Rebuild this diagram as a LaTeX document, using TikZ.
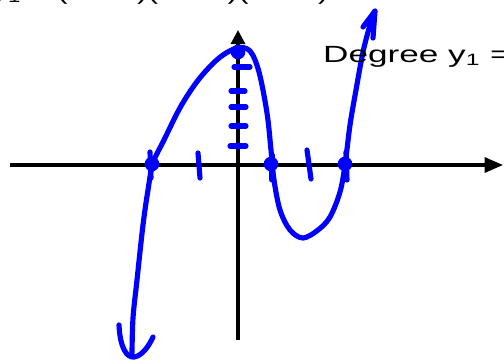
\documentclass[tikz,border=0pt]{standalone}
\usepackage{fontspec}
\setmainfont{Liberation Sans}
\usetikzlibrary{arrows.meta, positioning}
\tikzset{
    axis/.style={line width=2.6pt, -{Triangle[length=0.55cm, width=0.45cm]}},
    pen/.style={draw=blue, line width=4.4pt, line cap=round, line join=round},
    rootdot/.style={circle, fill=blue, inner sep=0pt, minimum size=0.44cm},
    handtext/.style={inner sep=0pt, anchor=base west, font=\fontsize{20}{24}\selectfont}
}

\begin{document}
\begin{tikzpicture}[x=0.03cm, y=-0.03cm]
\useasboundingbox (0,0) rectangle (504,363);

% axes
\coordinate (xl) at (10,165);
\coordinate (xr) at (503,165);
\coordinate (yb) at (238,340);
\coordinate (yt) at (238,30);
\draw[axis] (xl) -- (xr);
\draw[axis, -{Triangle[length=0.42cm, width=0.42cm]}] (yb) -- (yt);

% tick marks
\draw[pen] (198,153) -- (200,178);
\draw[pen] (307,150) -- (311,179);
\draw[pen] (150,152) -- (151,178);
\draw[pen] (272,155) -- (272,180);
\draw[pen] (346,152) -- (347,180);
\foreach \ty/\tl/\tr in {146/230/246, 126/231/246, 107/231/246, 91/231/245, 67/234/250}
    \draw[pen] (\tl,\ty) -- (\tr,\ty);

% the cubic
\draw[pen] plot[smooth, tension=0.55] coordinates {
    (132,353) (133,318) (137,280) (143,225) (148,190) (153,163) (164,140)
    (181,106) (199,79) (219,58) (237,48) (250,51) (259,72)
    (267,113) (271,150) (274,180) (280,210) (290,230) (303,238) (318,230)
    (330,217) (340,192) (345,165) (350,125) (356,90) (363,52) (370,25) (375,11)};
\draw[pen] (119,325) .. controls (120,348) and (127,358) .. (134,357)
    .. controls (142,356) and (149,346) .. (153,337);
\draw[pen] (363,27) -- (375,11) -- (373,38);

% roots and intercept
\node[rootdot] (r1) at (152,164) {};
\node[rootdot] (r2) at (271,164) {};
\node[rootdot] (r3) at (345,164) {};
\node[rootdot] (yint) at (238,52) {};

% texts
\node[handtext] (eq) at (-8,-1)
    {\scalebox{1.35}[1]{y\textsubscript{1} = (x + 2)(x − 1)(x − 3)}};
\node[handtext] (deg) at (323,62)
    {\scalebox{1.5}[1]{Degree y\textsubscript{1} =}};

\end{tikzpicture}
\end{document}
